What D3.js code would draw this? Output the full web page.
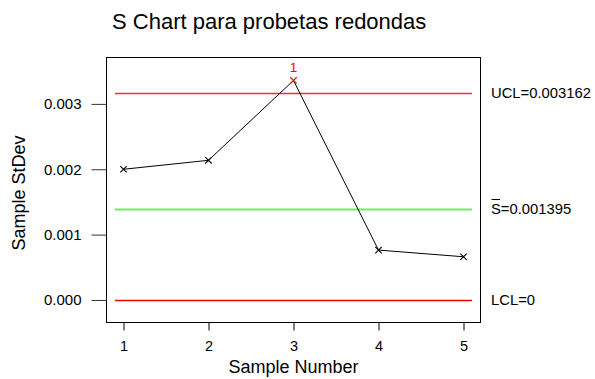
<!DOCTYPE html>
<html><head><meta charset="utf-8">
<script src="https://cdn.jsdelivr.net/npm/d3@7"></script>
<style>
body{margin:0;background:#fff;}
text{font-family:"Liberation Sans",Arial,sans-serif;}
</style></head>
<body><svg id="c" width="595" height="379"></svg>
<script>
const samples = [1, 2, 3, 4, 5];
const stdevs = [0.002000, 0.002137, 0.003359, 0.000763, 0.000661];
const yTicks = [0.000, 0.001, 0.002, 0.003];
const UCL = 0.003162, CENTER = 0.001395, LCL = 0;
const outOfControl = [3];

const svg = d3.select("#c");
const FF = "Liberation Sans, Arial, sans-serif";
const L = 106.5, R = 480.5, T = 57.5, B = 322.5;
const x = d3.scaleLinear().domain([0.8, 5.2]).range([L, R]);
const y = d3.scaleLinear().domain([-0.000345, 0.00371]).range([B, T]);

svg.append("text").attr("x", 112).attr("y", 28.5).attr("font-size", 22).attr("fill", "#000")
  .text("S Chart para probetas redondas");

// control lines
const lines = [
  {v: UCL, c: "#ff2a2a", w: 1.4},
  {v: CENTER, c: "#66ee66", w: 2},
  {v: LCL, c: "#ff0000", w: 1.4}
];
lines.forEach(l => {
  svg.append("line").attr("x1", x(0.9)).attr("x2", x(5.1))
    .attr("y1", Math.round(y(l.v)) + 0.5).attr("y2", Math.round(y(l.v)) + 0.5)
    .attr("stroke", l.c).attr("stroke-width", l.w);
});

// data line
const line = d3.line().x((d, i) => x(samples[i])).y(d => y(d));
svg.append("path").attr("d", line(stdevs)).attr("fill", "none").attr("stroke", "#000").attr("stroke-width", 1);

// markers
stdevs.forEach((d, i) => {
  const cx = x(samples[i]), cy = y(d), s = 3.2;
  const col = outOfControl.includes(samples[i]) ? "#ff0000" : "#000";
  svg.append("path").attr("d", `M${cx-s},${cy-s}L${cx+s},${cy+s}M${cx-s},${cy+s}L${cx+s},${cy-s}`)
    .attr("stroke", col).attr("stroke-width", 1.1).attr("fill", "none");
  if (outOfControl.includes(samples[i])) {
    svg.append("text").attr("x", cx).attr("y", 71.5).attr("text-anchor", "middle")
      .attr("font-size", 13.5).attr("fill", "#ff0000").text("1");
  }
});

// frame
svg.append("rect").attr("x", L).attr("y", T).attr("width", R - L).attr("height", B - T)
  .attr("fill", "none").attr("stroke", "#000").attr("stroke-width", 1);

// y axis
const yAxis = d3.axisLeft(y).tickValues(yTicks).tickFormat(d3.format(".3f")).tickSize(15).tickPadding(10);
const gy = svg.append("g").attr("transform", `translate(${L},0)`).call(yAxis);
gy.select(".domain").remove();
gy.selectAll("text").attr("font-size", 15).attr("font-family", FF).attr("fill", "#000");
gy.selectAll("line").attr("stroke", "#333");

// x axis
const xAxis = d3.axisBottom(x).tickValues(samples).tickFormat(d3.format("d")).tickSize(8).tickPadding(10);
const gx = svg.append("g").attr("transform", `translate(0,${B})`).call(xAxis);
gx.select(".domain").remove();
gx.selectAll("text").attr("font-size", 14.5).attr("font-family", FF).attr("fill", "#000");
gx.selectAll("line").attr("stroke", "#000");

// axis titles
svg.append("text").attr("x", x(3)).attr("y", 373).attr("text-anchor", "middle").attr("font-size", 18)
  .text("Sample Number");
svg.append("text").attr("transform", `translate(25,193) rotate(-90)`).attr("text-anchor", "middle")
  .attr("font-size", 18).text("Sample StDev");

// right labels
const rl = svg.append("g").attr("font-size", 14.8);
rl.append("text").attr("x", 491).attr("y", y(UCL) + 4.7).text("UCL=" + UCL.toFixed(6));
const cy0 = y(CENTER) + 5;
rl.append("text").attr("x", 491).attr("y", cy0).text("S=" + CENTER.toFixed(6));
svg.append("line").attr("x1", 491.5).attr("x2", 500).attr("y1", Math.round(cy0 - 15) + 0.5).attr("y2", Math.round(cy0 - 15) + 0.5)
  .attr("stroke", "#000").attr("stroke-width", 1);
rl.append("text").attr("x", 491).attr("y", y(LCL) + 5.3).text("LCL=" + LCL);
</script></body></html>
